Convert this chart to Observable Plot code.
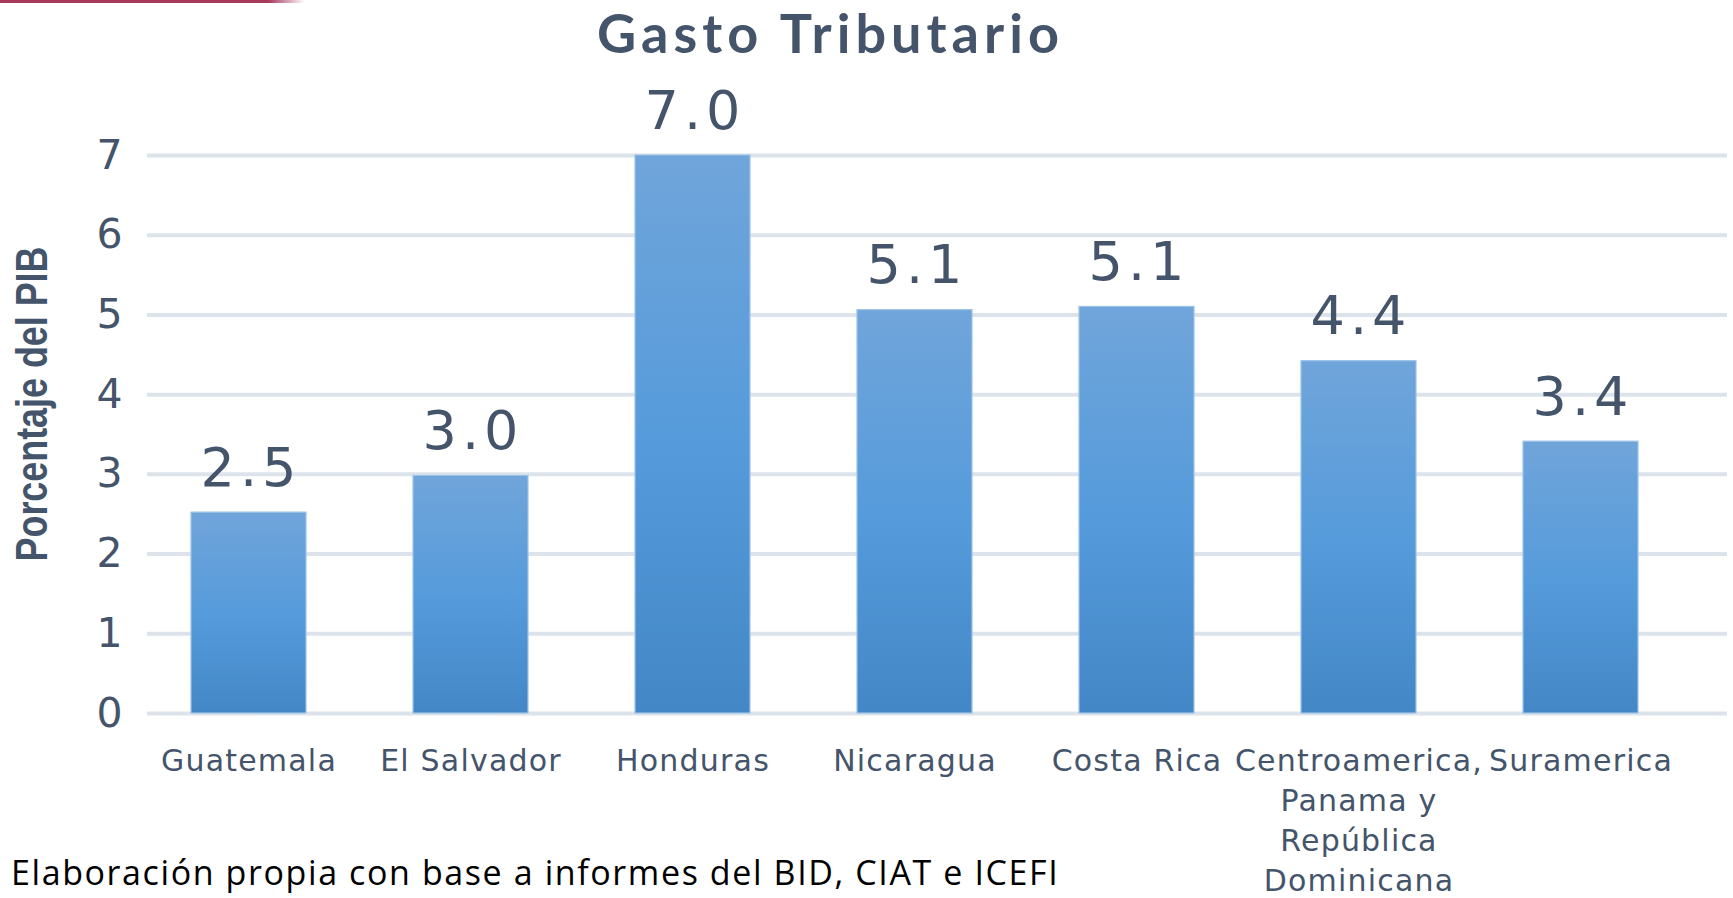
<!DOCTYPE html>
<html>
<head>
<meta charset="utf-8">
<script src="https://cdn.jsdelivr.net/npm/d3@7"></script>
<script src="https://cdn.jsdelivr.net/npm/@observablehq/plot@0.6"></script>
<style>
  html, body { margin: 0; padding: 0; background: #fff; }
  #wrap { position: relative; width: 1733px; height: 898px; overflow: hidden; background: #fff; }
  #topline { position: absolute; left: 0; top: 0; width: 305px; height: 3px;
    background: linear-gradient(to right, #a63a5b 0, #a63a5b 88%, rgba(166,58,91,0) 100%); }
  #title { position: absolute; left: 597px; top: 9px; font-family: Lato, "Open Sans", sans-serif; font-weight: bold;
    font-size: 54px; line-height: 0.9; letter-spacing: 5px; color: #44546a; white-space: nowrap; }
  #ylabel { position: absolute; left: 32px; top: 404px; transform: translate(-50%, -50%) rotate(-90deg) scaleX(0.815);
    font-family: "Liberation Sans Narrow", "Liberation Sans", sans-serif; font-weight: bold; font-size: 44px;
    line-height: 1; color: #44546a; white-space: nowrap; }
  #caption { position: absolute; left: 11px; top: 855px; font-family: "Open Sans", sans-serif; font-size: 34px;
    letter-spacing: 1.6px; line-height: 1; color: #000; white-space: nowrap; }
  #chart { position: absolute; left: 0; top: 0; }
  g[aria-label="x-axis tick label"] text { letter-spacing: 1.2px; }
  g[aria-label="text"] text { letter-spacing: 5px; }
</style>
</head>
<body>
<div id="wrap">
  <div id="chart"></div>
  <div id="topline"></div>
  <div id="title">Gasto Tributario</div>
  <div id="ylabel">Porcentaje del PIB</div>
  <div id="caption">Elaboración propia con base a informes del BID, CIAT e ICEFI</div>
</div>
<script>
const countries = ["Guatemala", "El Salvador", "Honduras", "Nicaragua", "Costa Rica",
  "Centroamerica, Panama y República Dominicana", "Suramerica"];
const tickLabels = ["Guatemala", "El Salvador", "Honduras", "Nicaragua", "Costa Rica",
  "Centroamerica,\nPanama y\nRepública\nDominicana", "Suramerica"];
const values = [2.52, 2.98, 7.0, 5.06, 5.1, 4.42, 3.41];
const yTicks = [0, 1, 2, 3, 4, 5, 6, 7];

const data = countries.map((c, i) => ({country: c, value: values[i]}));

const plot = Plot.plot({
  width: 1733,
  height: 898,
  marginTop: 155,
  marginBottom: 185,
  marginLeft: 147,
  marginRight: 6,
  style: {fontFamily: "DejaVu Sans", color: "#44546a", background: "transparent", overflow: "visible"},
  x: {domain: countries, paddingInner: 0.483, paddingOuter: 0.2935, align: 0.328, label: null},
  y: {domain: [0, 7], label: null},
  marks: [
    Plot.ruleY(yTicks, {stroke: "#dde3ea", strokeWidth: 4}),
    Plot.barY(data, {x: "country", y: "value", fill: "url(#barGrad)", stroke: "#9cc3e8", strokeWidth: 1.2}),
    Plot.text(data, {x: "country", y: "value", text: d => d.value.toFixed(1), lineAnchor: "bottom",
      dy: -27, dx: 2, fontSize: 54, fill: "#44546a"}),
    Plot.axisY(yTicks, {tickSize: 0, tickPadding: 25, fontSize: 41, label: null, tickFormat: d => String(d)}),
    Plot.axisX({tickSize: 0, tickPadding: 29, fontSize: 30, lineHeight: 1.33, label: null,
      tickFormat: d => tickLabels[countries.indexOf(d)]})
  ]
});

const ns = "http://www.w3.org/2000/svg";
const defs = document.createElementNS(ns, "defs");
defs.innerHTML = '<linearGradient id="barGrad" x1="0" y1="0" x2="0" y2="1">' +
  '<stop offset="0" stop-color="#70a5da"/><stop offset="0.5" stop-color="#569bdb"/>' +
  '<stop offset="1" stop-color="#4387c7"/></linearGradient>';
plot.insertBefore(defs, plot.firstChild);
document.getElementById("chart").appendChild(plot);
</script>
</body>
</html>
